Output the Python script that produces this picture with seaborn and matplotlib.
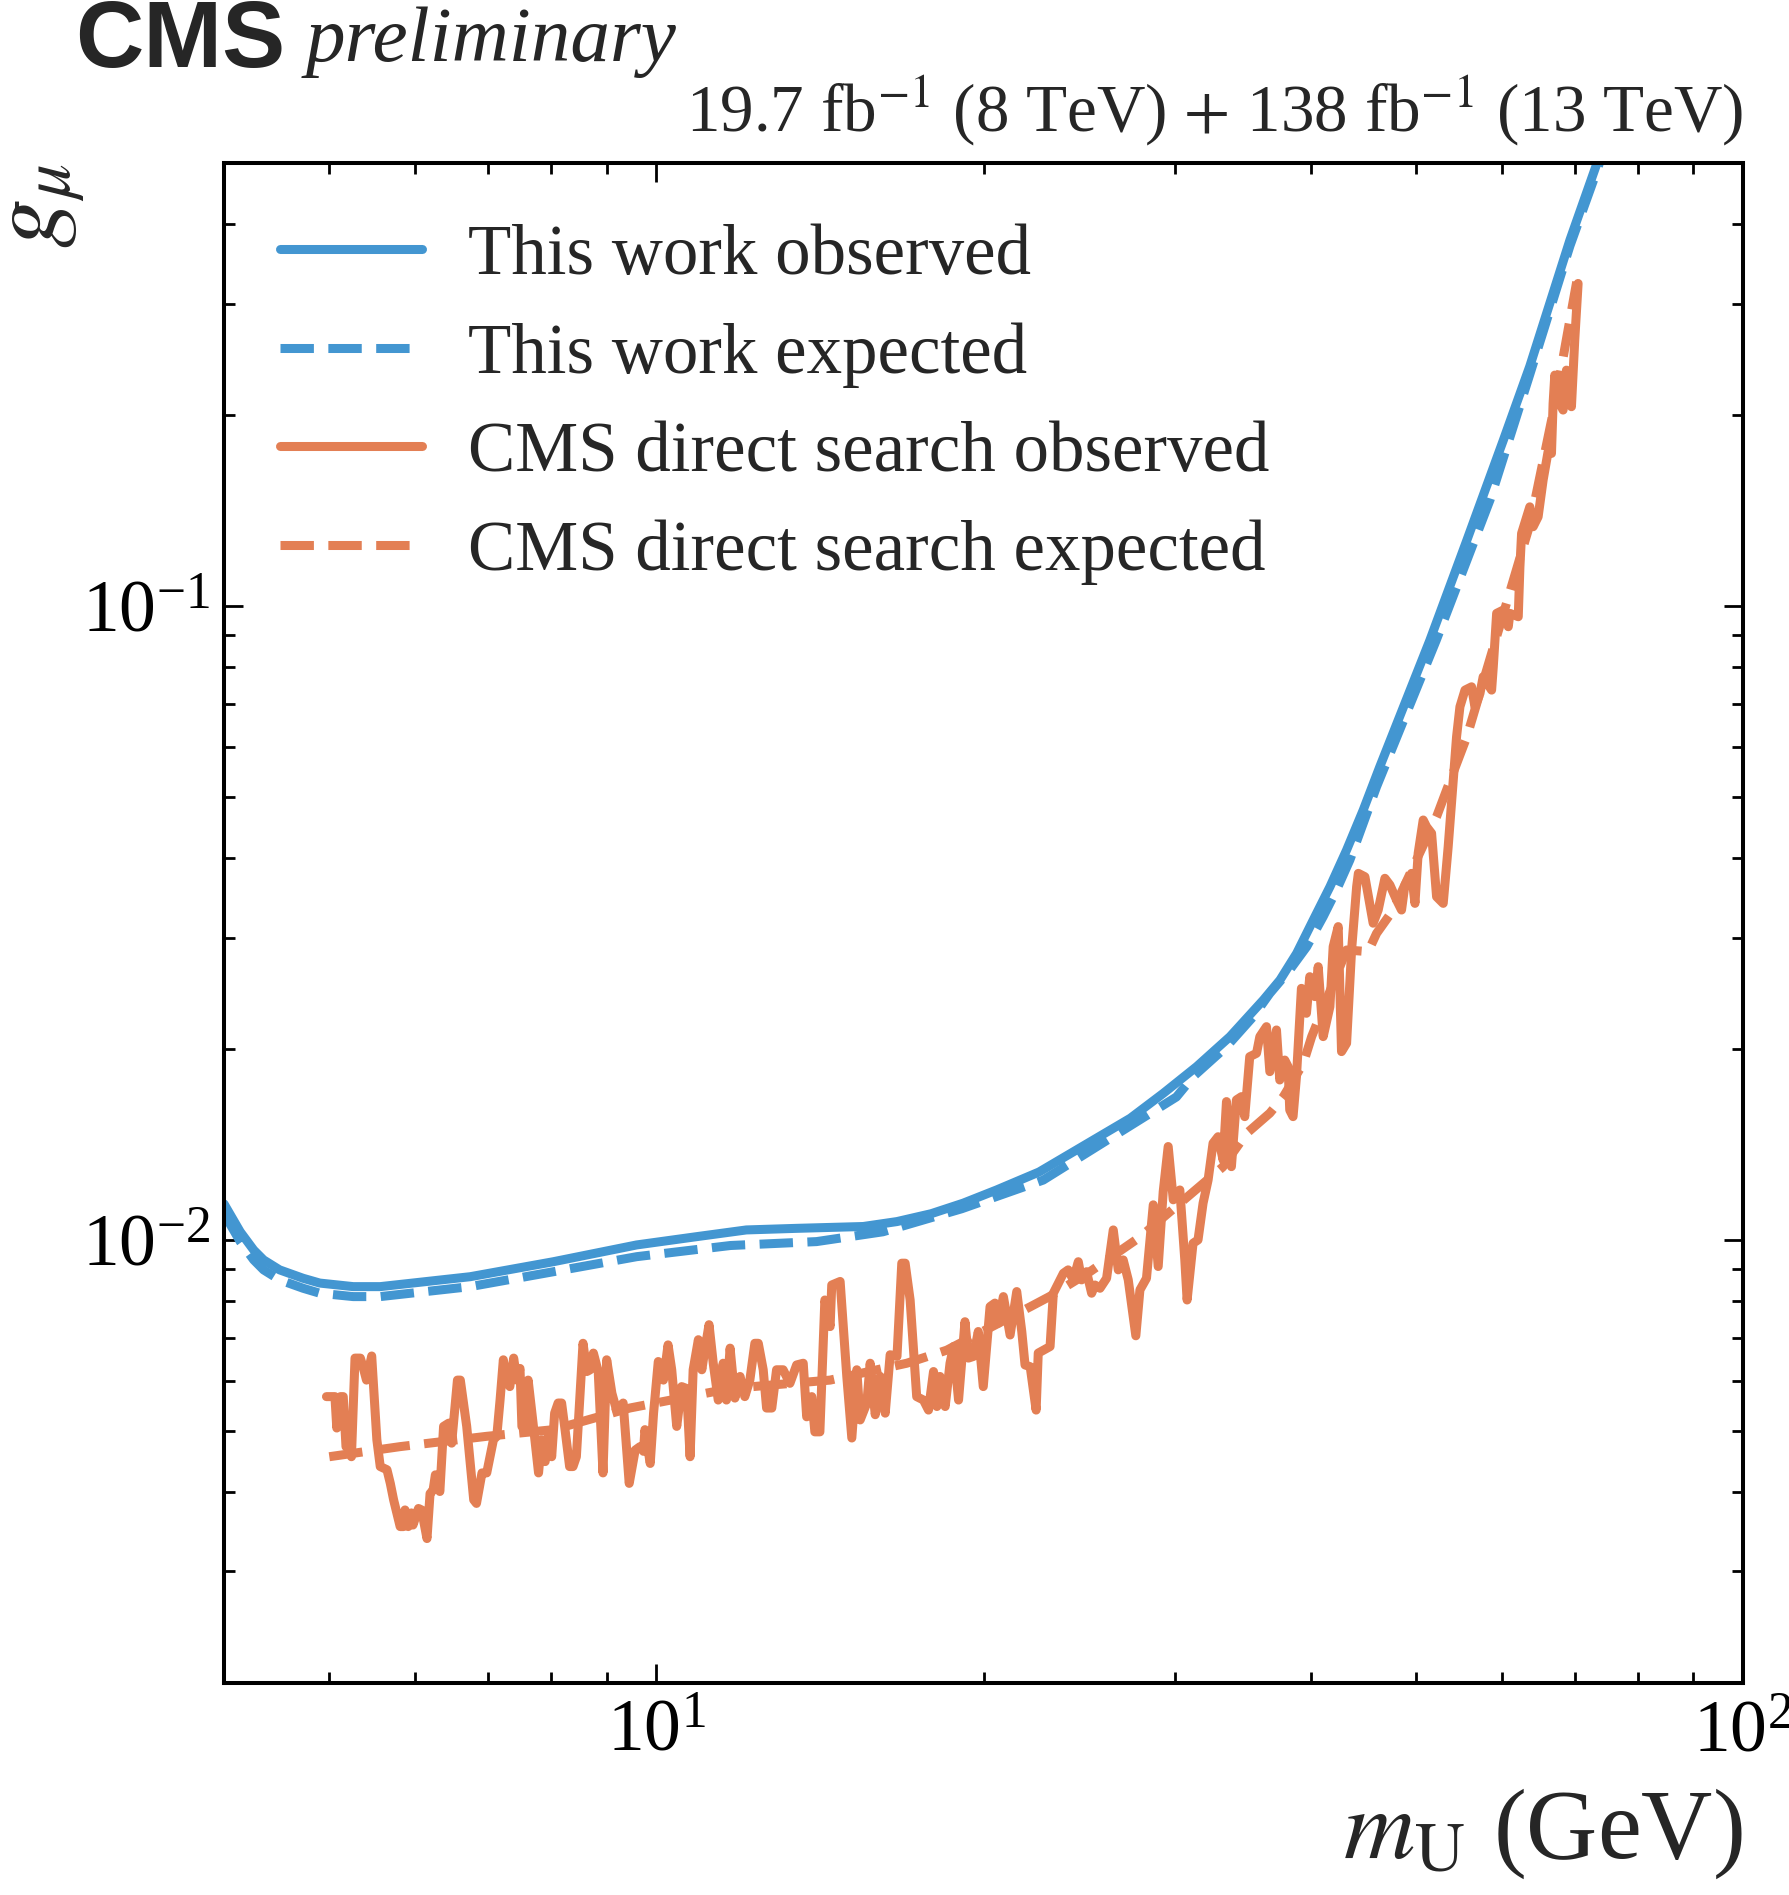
import numpy as np
import pandas as pd
import matplotlib
matplotlib.use("Agg")
import matplotlib.pyplot as plt
import seaborn as sns

# --- values ---
# This work (smooth limits)
mass_this_obs = [4.0, 4.14, 4.26, 4.35, 4.50, 4.73, 4.9, 5.26, 5.57, 6.74,
                 8.04, 9.59, 10.89, 12.1, 13.46, 15.5, 16.65, 17.9, 19.16, 20.56,
                 22.5, 27.3, 29.27, 31.42, 33.72, 36.19, 37.49, 38.84, 40.23, 41.68,
                 43.17, 44.72, 46.32, 51.5, 55.7, 60.2, 63.65, 69.3, 73.4, 75.0]
g_this_obs = [0.0114, 0.0103, 0.00964, 0.0093, 0.00897, 0.0087, 0.00855, 0.00844, 0.00844, 0.00875,
              0.00924, 0.00982, 0.01012, 0.01037, 0.01043, 0.0105, 0.01069, 0.0110, 0.01143, 0.01199,
              0.0128, 0.01556, 0.01703, 0.01877, 0.02093, 0.02391, 0.02571, 0.02833, 0.03198, 0.03609,
              0.04122, 0.04767, 0.0558, 0.0883, 0.127, 0.183, 0.239, 0.378, 0.50, 0.56]

mass_this_exp = [4.0, 4.14, 4.26, 4.35, 4.50, 4.73, 4.9, 5.26, 5.57, 6.74,
                 8.04, 9.59, 11.7, 14.04, 16.16, 19.1, 22.7, 30.1, 31.19, 33.47,
                 35.42, 36.69, 38.27, 39.67, 41.08, 42.26, 43.47, 44.72, 46.0, 52.2,
                 58.5, 63.65, 69.3, 73.5, 75.0]
g_this_exp = [0.0110, 0.00994, 0.0093, 0.00897, 0.00865, 0.00839, 0.00824, 0.00814, 0.00814, 0.00844,
              0.00891, 0.00941, 0.0098, 0.00994, 0.0103, 0.0112, 0.01243, 0.01681, 0.0181, 0.02018,
              0.0225, 0.02449, 0.02667, 0.02901, 0.03236, 0.03565, 0.03975, 0.04542, 0.05188, 0.0883,
              0.147, 0.232, 0.37, 0.49, 0.55]

# CMS direct search observed (noisy)
mass_cms_obs = [
    4.97, 5.06, 5.08, 5.12, 5.15, 5.18, 5.21, 5.24, 5.28, 5.34,
    5.37, 5.41, 5.47, 5.53, 5.57, 5.65, 5.69, 5.73, 5.81, 5.85,
    5.87, 5.91, 5.95, 5.97, 6.04, 6.08, 6.15, 6.19, 6.23, 6.26,
    6.32, 6.37, 6.44, 6.48, 6.56, 6.60, 6.69, 6.79, 6.83, 6.91,
    6.98, 7.04, 7.08, 7.13, 7.18, 7.23, 7.28, 7.33, 7.39, 7.44,
    7.49, 7.52, 7.57, 7.62, 7.70, 7.79, 7.84, 7.90, 7.95, 8.01,
    8.06, 8.12, 8.18, 8.24, 8.32, 8.38, 8.44, 8.56, 8.63, 8.69,
    8.75, 8.84, 8.93, 9.00, 9.10, 9.19, 9.32, 9.44, 9.56, 9.66,
    9.73, 9.76, 9.87, 9.94, 10.04, 10.15, 10.25, 10.33, 10.44, 10.55,
    10.66, 10.74, 10.81, 10.93, 11.01, 11.08, 11.18, 11.28, 11.40, 11.52,
    11.60, 11.69, 11.81, 11.94, 12.06, 12.19, 12.32, 12.41, 12.54, 12.63,
    12.77, 12.90, 13.08, 13.27, 13.46, 13.65, 13.75, 13.90, 13.99, 14.14,
    14.29, 14.45, 14.50, 14.76, 14.97, 15.13, 15.29, 15.40, 15.62, 15.73,
    15.90, 16.07, 16.24, 16.41, 16.65, 16.82, 16.94, 17.12, 17.36, 17.61,
    17.80, 17.99, 18.12, 18.24, 18.44, 18.63, 18.77, 18.97, 19.23, 19.37,
    19.58, 19.78, 19.99, 20.28, 20.49, 20.64, 20.86, 21.16, 21.46, 21.69,
    21.84, 22.08, 22.36, 22.46, 23.03, 23.19, 23.69, 23.93, 24.19, 24.45,
    24.62, 24.88, 25.15, 25.33, 25.60, 25.96, 26.33, 26.61, 26.89, 27.18,
    27.62, 27.86, 28.25, 28.66, 28.96, 29.27, 29.58, 29.90, 30.32, 30.64,
    30.79, 31.18, 31.51, 31.85, 32.19, 32.53, 32.88, 33.23, 33.47, 33.82,
    34.18, 34.55, 34.79, 35.16, 35.67, 35.92, 36.43, 36.69, 37.21, 37.47,
    37.87, 38.14, 38.27, 38.54, 38.82, 39.23, 39.65, 39.93, 40.37, 40.65,
    41.08, 41.67, 41.96, 42.41, 42.71, 43.17, 43.63, 44.10, 44.26, 44.88,
    45.67, 46.16, 46.82, 47.32, 47.99, 48.50, 48.85, 49.54, 49.90, 50.24,
    50.78, 51.14, 51.69, 52.24, 52.98, 53.54, 54.50, 54.89, 55.48, 56.26,
    56.66, 57.27, 57.66, 58.70, 58.91, 59.33, 60.17, 60.81, 61.02, 62.11,
    62.33, 62.55, 63.65, 64.10, 64.78, 65.47, 66.16, 66.64, 66.87, 67.11,
    67.58, 68.30, 68.79, 69.52, 69.77, 70.01, 70.51,
]
g_cms_obs = [
    0.00566, 0.00566, 0.00505, 0.00566, 0.00566, 0.00472, 0.00472, 0.00455, 0.00651, 0.00651,
    0.00631, 0.00601, 0.00656, 0.00484, 0.00439, 0.00434, 0.00413, 0.00389, 0.00353, 0.00353,
    0.00375, 0.00353, 0.00371, 0.00355, 0.00377, 0.00375, 0.00338, 0.00398, 0.00403, 0.00426,
    0.00401, 0.00508, 0.00514, 0.00478, 0.00601, 0.00601, 0.00508, 0.00389, 0.00384, 0.00429,
    0.00429, 0.00461, 0.00484, 0.00490, 0.00559, 0.00647, 0.00601, 0.00587, 0.00651, 0.00601,
    0.00627, 0.00508, 0.00508, 0.00601, 0.00514, 0.00429, 0.00484, 0.00447, 0.00490, 0.00455,
    0.00533, 0.00553, 0.00553, 0.00502, 0.00439, 0.00439, 0.00455, 0.00687, 0.00620, 0.00624,
    0.00663, 0.00620, 0.00429, 0.00647, 0.00573, 0.00539, 0.00553, 0.00413, 0.00466, 0.00472,
    0.00464, 0.00502, 0.00444, 0.00533, 0.00643, 0.00601, 0.00683, 0.00624, 0.00508, 0.00587,
    0.00583, 0.00455, 0.00624, 0.00696, 0.00624, 0.00670, 0.00735, 0.00639, 0.00559, 0.00639,
    0.00559, 0.00675, 0.00563, 0.00609, 0.00566, 0.00601, 0.00687, 0.00687, 0.00624, 0.00543,
    0.00543, 0.00624, 0.00624, 0.00594, 0.00635, 0.00639, 0.00526, 0.00566, 0.00498, 0.00498,
    0.00804, 0.00730, 0.00849, 0.00860, 0.00609, 0.00487, 0.00624, 0.00520, 0.00553, 0.00639,
    0.00530, 0.00609, 0.00533, 0.00659, 0.00655, 0.00919, 0.00919, 0.00804, 0.00566, 0.00559,
    0.00539, 0.00620, 0.00546, 0.00609, 0.00546, 0.00639, 0.00679, 0.00559, 0.00743, 0.00651,
    0.00655, 0.00717, 0.00587, 0.00785, 0.00795, 0.00739, 0.00814, 0.00708, 0.00829, 0.00717,
    0.00635, 0.00631, 0.00539, 0.00663, 0.00679, 0.00824, 0.00886, 0.00897, 0.00865, 0.00924,
    0.00865, 0.00891, 0.00824, 0.00849, 0.00839, 0.00870, 0.01037, 0.00897, 0.00930, 0.00865,
    0.00706, 0.00834, 0.00870, 0.01136, 0.00908, 0.01192, 0.01404, 0.01157, 0.01199, 0.00930,
    0.00804, 0.00988, 0.01000, 0.01143, 0.01243, 0.01421, 0.01455, 0.01337, 0.01653, 0.01305,
    0.01663, 0.01683, 0.01565, 0.01946, 0.01970, 0.02093, 0.02170, 0.01843, 0.02144, 0.01788,
    0.01922, 0.01876, 0.01603, 0.01565, 0.01810, 0.02494, 0.02278, 0.02602, 0.02420, 0.02698,
    0.02093, 0.02333, 0.02902, 0.03121, 0.01982, 0.02043, 0.02867, 0.03609, 0.03787, 0.03741,
    0.03160, 0.03315, 0.03720, 0.03631, 0.03438, 0.03315, 0.03631, 0.03787, 0.03396, 0.04073,
    0.04597, 0.04486, 0.04380, 0.03479, 0.03396, 0.04172, 0.06221, 0.06937, 0.07369, 0.07458,
    0.06937, 0.07281, 0.07735, 0.07369, 0.08022, 0.09739, 0.09856, 0.09277, 0.09739, 0.09620,
    0.1153, 0.1302, 0.1434, 0.1334, 0.1383, 0.158, 0.1751, 0.1741, 0.2087, 0.2314,
    0.2113, 0.2038, 0.2356, 0.2063, 0.2328, 0.2628, 0.3228,
]

# CMS direct search expected
mass_cms_exp = [5.0, 5.81, 6.98, 8.04, 9.45, 11.7, 14.45, 17.0, 18.5, 22.1,
                23.0, 25.06, 27.9, 31.9, 33.2, 34.93, 36.69, 37.76, 39.39, 40.09,
                43.17, 45.19, 46.0, 47.65, 52.24, 53.36, 55.7, 60.2, 63.7, 67.0,
                70.3]
g_cms_exp = [0.00455, 0.00472, 0.0049, 0.00502, 0.00543, 0.00583, 0.00601, 0.00639, 0.0067, 0.00785,
             0.00814, 0.00891, 0.01012, 0.0123, 0.01303, 0.01473, 0.01585, 0.01683, 0.0190, 0.02093,
             0.02867, 0.0285, 0.03045, 0.03315, 0.04653, 0.05126, 0.0622, 0.0974, 0.135, 0.205,
             0.3247]

labels = ["This work observed", "This work expected",
          "CMS direct search observed", "CMS direct search expected"]

assert len(mass_cms_obs) == len(g_cms_obs)
assert len(mass_cms_exp) == len(g_cms_exp)
assert len(mass_this_obs) == len(g_this_obs)
assert len(mass_this_exp) == len(g_this_exp)

BLUE = "#4396D1"
ORANGE = "#E37F54"

sns.set_style("ticks")
plt.rcParams['font.family'] = ['Liberation Serif', 'DejaVu Serif']
plt.rcParams['mathtext.fontset'] = 'stix'

W, H = 1789, 1895
fig = plt.figure(figsize=(W / 100, H / 100), dpi=100)
ax = fig.add_axes([224 / W, 1 - 1683 / H, 1519 / W, 1520 / H])

curves = [
    (mass_this_obs, g_this_obs, BLUE, "-"),
    (mass_this_exp, g_this_exp, BLUE, "--"),
    (mass_cms_obs, g_cms_obs, ORANGE, "-"),
    (mass_cms_exp, g_cms_exp, ORANGE, "--"),
]
for (xs, ys, color, ls), label in zip(curves, labels):
    sns.lineplot(x=xs, y=ys, ax=ax, color=color, linestyle=ls, linewidth=6.5,
                 label=label, sort=False, estimator=None)

ax.set_xscale('log')
ax.set_yscale('log')
ax.set_xlim(4, 100)
ax.set_ylim(0.002, 0.5)

for s in ax.spines.values():
    s.set_visible(True)
    s.set_linewidth(2.9)
    s.set_color('black')

ax.tick_params(which='both', direction='in', top=True, right=True,
               color='black', labelcolor='black', width=2.0)
ax.tick_params(which='major', length=14, labelsize=53)
ax.tick_params(axis='x', which='major', pad=12)
ax.tick_params(axis='y', which='major', pad=10)
ax.tick_params(which='minor', length=8)

ax.set_xlabel(r"$m_{\mathrm{U}}$ (GeV)", loc='right', fontsize=71)
ax.xaxis.set_label_coords(1.0, -0.068)
ax.set_ylabel(r"$g_{\mu}$", loc='top', fontsize=71)
ax.yaxis.set_label_coords(-0.090, 1.0)

ax.legend(loc='upper left', bbox_to_anchor=(0.0369, 0.960), frameon=False,
          fontsize=51, handlelength=2.0, handletextpad=0.65, labelspacing=0.47,
          borderpad=0, borderaxespad=0)

fig.text(75 / W, 1 - 67 / H, "CMS", family=['Liberation Sans', 'DejaVu Sans'],
         fontweight='bold', fontsize=68, va='baseline')
fig.text(306 / W, 1 - 61 / H, "preliminary", style='italic', fontsize=57, va='baseline')
fig.text(1743 / W, 1 - 131 / H,
         r"19.7 fb$^{-1}$ (8 TeV) $+$ 138 fb$^{-1}$ (13 TeV)",
         ha='right', va='baseline', fontsize=48.3)

fig.savefig("out.png", dpi=100)
